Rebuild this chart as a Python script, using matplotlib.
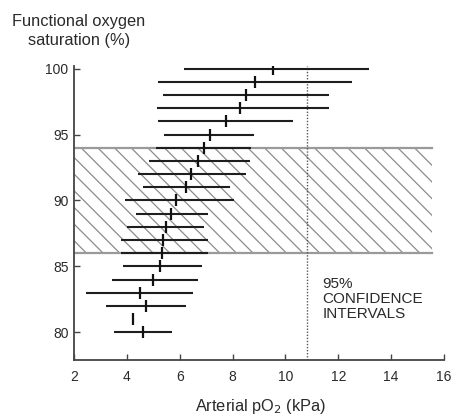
import matplotlib
matplotlib.use('Agg')
import matplotlib.pyplot as plt
import numpy as np

plt.rcParams['font.family'] = ['Liberation Sans', 'DejaVu Sans']
plt.rcParams['hatch.linewidth'] = 0.9

# saturation rows (%) and 95% CI of arterial pO2 (kPa)
saturation = [100, 99, 98, 97, 96, 95, 94, 93, 92, 91, 90,
              89, 88, 87, 86, 85, 84, 83, 82, 81, 80]
po2_low = [6.17, 5.18, 5.37, 5.13, 5.17, 5.39, 5.10, 4.84, 4.42, 4.61, 3.93,
           4.35, 4.00, 3.78, 3.78, 3.86, 3.44, 2.45, 3.21, np.nan, 3.52]
po2_high = [13.17, 12.53, 11.66, 11.66, 10.30, 8.82, 8.70, 8.67, 8.52, 7.91, 8.06,
            7.08, 6.92, 7.08, 7.08, 6.85, 6.70, 6.50, 6.24, np.nan, 5.71]
po2_mean = [9.54, 8.86, 8.50, 8.29, 7.76, 7.15, 6.92, 6.70, 6.43, 6.24, 5.86,
            5.67, 5.48, 5.37, 5.33, 5.26, 4.98, 4.48, 4.73, 4.25, 4.61]

band_low, band_high = 86, 94     # hatched normal range
band_right = 15.55
ref_po2 = 10.8                   # dotted line

x_ticks = [2, 4, 6, 8, 10, 12, 14, 16]
y_ticks = [80, 85, 90, 95, 100]

fig = plt.figure(figsize=(4.51, 4.17), dpi=100)
ax = fig.add_axes([74/451, 1-360/417, 370/451, (360-66)/417])
ax.set_xlim(2, 16)
ax.set_ylim(77.9, 100.2)

# hatched band
ax.fill_between([2, band_right], band_low, band_high, facecolor='none',
                edgecolor='#8c8c8c', linewidth=0, hatch='\\\\', zorder=1)
ax.plot([2, band_right], [band_high, band_high], color='#9a9a9a', lw=1.6, zorder=1)
ax.plot([2, band_right], [band_low, band_low], color='#9a9a9a', lw=1.6, zorder=1)

# dotted reference line
ax.axvline(ref_po2, color='#555555', lw=1.0, ls=(0, (1.0, 1.2)), zorder=2)

# confidence intervals
ax.hlines(saturation, po2_low, po2_high, color='#1e1e1e', lw=1.5, zorder=3)
ax.plot(po2_mean, saturation, ls='none', marker='|', markersize=9,
        mew=1.6, color='#111111', zorder=4)

ax.text(11.4, 82.5, '95%\nCONFIDENCE\nINTERVALS', fontsize=11,
        ha='left', va='center', linespacing=1.1, color='#2a2a2a')

ax.spines['top'].set_visible(False)
ax.spines['right'].set_visible(False)
ax.spines['left'].set_color('#444444')
ax.spines['bottom'].set_color('#444444')
ax.spines['left'].set_linewidth(1.3)
ax.spines['bottom'].set_linewidth(1.3)
ax.set_xticks(x_ticks)
ax.set_yticks(y_ticks)
ax.tick_params(direction='in', length=4, width=1, color='#444444',
               labelsize=10, labelcolor='#2a2a2a')
ax.tick_params(axis='x', pad=7)
ax.tick_params(axis='y', pad=4)

fig.text(79/451, 1-31/417, 'Functional oxygen\nsaturation (%)', ha='center',
         va='center', fontsize=11.8, linespacing=1.35, color='#2a2a2a')
fig.text(260/451, 1-407/417, 'Arterial pO$_2$ (kPa)', ha='center', va='center',
         fontsize=11.8, color='#2a2a2a')

fig.savefig('out.png', dpi=100)
